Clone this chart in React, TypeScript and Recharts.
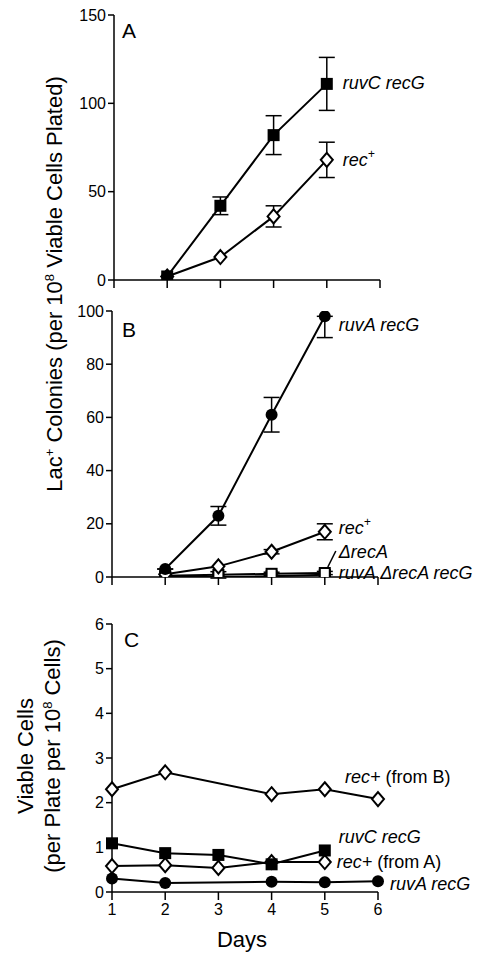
import { LineChart, Line, XAxis, YAxis, ErrorBar, LabelList } from 'recharts';

const FONT = '"Liberation Sans", Arial, Helvetica, sans-serif';

const dayTicks = [1, 2, 3, 4, 5, 6];

// Panel A
const aDays = [2, 3, 4, 5];
const aRuvCRecG = [2, 42, 82, 111];
const aRuvCRecGErr = [0, 5, 11, 15];
const aRecPlus = [2, 13, 36, 68];
const aRecPlusErr = [0, 0, 6, 10];
const aTicks = [0, 50, 100, 150];

// Panel B
const bDays = [2, 3, 4, 5];
const bRuvARecG = [3, 23, 61, 98];
const bRuvARecGErrLow = [0, 3.5, 6.5, 8];
const bRuvARecGErrHigh = [0, 3.5, 6.5, 0];
const bRecPlus = [1, 4, 9.5, 17];
const bRecPlusErr = [0, 0, 0.8, 3];
const bDeltaRecA = [0.5, 0.8, 1.2, 1.5];
const bDeltaRecAErr = [0, 1.2, 0.6, 0.6];
const bRuvADeltaRecARecG = [0, 0, 0.3, 0.8];
const bTicks = [0, 20, 40, 60, 80, 100];

// Panel C
const cRecPlusBDays = [1, 2, 4, 5, 6];
const cRecPlusB = [2.3, 2.68, 2.19, 2.3, 2.08];
const cRuvCDays = [1, 2, 3, 4, 5];
const cRuvCRecG = [1.09, 0.87, 0.83, 0.62, 0.93];
const cRecPlusADays = [1, 2, 3, 4, 5];
const cRecPlusA = [0.58, 0.6, 0.54, 0.67, 0.67];
const cRuvADays = [1, 2, 4, 5, 6];
const cRuvARecG = [0.3, 0.2, 0.23, 0.22, 0.24];
const cTicks = [0, 1, 2, 3, 4, 5, 6];

const rows = (days: number[], vals: number[], errs?: number[], errsHigh?: number[]) =>
  days.map((d, i) => ({
    day: d,
    y: vals[i],
    err: errs ? (errsHigh ? [errs[i], errsHigh[i]] : errs[i]) : 0,
  }));

type Shape = 'square' | 'openSquare' | 'diamond' | 'circle';

const makeDot = (shape: Shape) => (p: any) => {
  const { cx, cy, index } = p;
  const k = `${shape}-${index}`;
  if (cx == null || cy == null) return <g key={k} />;
  if (shape === 'square')
    return <rect key={k} x={cx - 6} y={cy - 6} width={12} height={12} fill="#000" />;
  if (shape === 'openSquare')
    return <rect key={k} x={cx - 5} y={cy - 5} width={10} height={10} fill="#fff" stroke="#000" strokeWidth={2} />;
  if (shape === 'circle') return <circle key={k} cx={cx} cy={cy} r={6} fill="#000" />;
  return (
    <polygon
      key={k}
      points={`${cx},${cy - 7} ${cx + 6},${cy} ${cx},${cy + 7} ${cx - 6},${cy}`}
      fill="#fff"
      stroke="#000"
      strokeWidth={2}
    />
  );
};

type Part = { t: string; i?: boolean; sup?: boolean };

const endLabel =
  (last: number, dx: number, dy: number, parts: Part[], leader?: boolean) => (props: any) => {
    if (props.index !== last) return null;
    const px = Number(props.viewBox?.x ?? props.x);
    const py = Number(props.viewBox?.y ?? props.y);
    const x = px + dx;
    const y = py + dy;
    return (
      <g key={`lab-${last}-${dx}-${dy}`}>
        {leader && <line x1={px + 3} y1={py - 6} x2={px + 11} y2={py - 22} stroke="#000" strokeWidth={1.5} />}
        <text x={x} y={y} dominantBaseline="central" fontSize={18} fill="#000" fontFamily={FONT}>
          {parts.map((p, j) =>
            p.sup ? (
              <tspan key={j} dy={-6} fontSize={12} fontStyle={p.i ? 'italic' : 'normal'}>
                {p.t}
              </tspan>
            ) : (
              <tspan key={j} dy={j > 0 && parts[j - 1].sup ? 6 : 0} fontStyle={p.i ? 'italic' : 'normal'}>
                {p.t}
              </tspan>
            )
          )}
        </text>
      </g>
    );
  };

const axisProps = {
  stroke: '#000',
  strokeWidth: 1.5,
  tick: { fill: '#000', fontSize: 16, fontFamily: FONT },
  tickLine: { stroke: '#000', strokeWidth: 1.5 },
};

const lineProps = {
  type: 'linear' as const,
  dataKey: 'y',
  stroke: '#000',
  strokeWidth: 2,
  activeDot: false,
  isAnimationActive: false,
};

const errProps = { dataKey: 'err', width: 8, stroke: '#000', strokeWidth: 1.5, direction: 'y' as const, isAnimationActive: false };

export default function App() {
  return (
    <div style={{ position: 'absolute', left: 0, top: 0, width: 480, height: 953, background: '#fff', fontFamily: FONT }}>
      {/* Panel A */}
      <div style={{ position: 'absolute', left: 0, top: 0 }}>
        <LineChart width={480} height={300} margin={{ top: 15, right: 100, left: 0, bottom: 0 }}>
          <XAxis dataKey="day" type="number" domain={[1, 6]} ticks={dayTicks} height={20} tickSize={8} tickFormatter={() => ''} {...axisProps} />
          <YAxis type="number" domain={[0, 150]} allowDataOverflow ticks={aTicks} width={114} tickSize={6} tickMargin={2} {...axisProps} />
          <Line {...lineProps} data={rows(aDays, aRecPlus, aRecPlusErr)} dot={makeDot('diamond')}>
            <ErrorBar {...errProps} />
            <LabelList dataKey="y" content={endLabel(3, 16, 0, [{ t: 'rec', i: true }, { t: '+', i: true, sup: true }])} />
          </Line>
          <Line {...lineProps} data={rows(aDays, aRuvCRecG, aRuvCRecGErr)} dot={makeDot('square')}>
            <ErrorBar {...errProps} />
            <LabelList dataKey="y" content={endLabel(3, 16, -1, [{ t: 'ruvC recG', i: true }])} />
          </Line>
        </LineChart>
      </div>

      {/* Panel B */}
      <div style={{ position: 'absolute', left: 0, top: 290 }}>
        <LineChart width={480} height={307} margin={{ top: 21, right: 102, left: 0, bottom: 0 }}>
          <XAxis dataKey="day" type="number" domain={[1, 6]} ticks={dayTicks} height={20} tickSize={8} tickFormatter={() => ''} {...axisProps} />
          <YAxis type="number" domain={[0, 100]} allowDataOverflow ticks={bTicks} width={112} tickSize={6} tickMargin={2} {...axisProps} />
          <Line {...lineProps} data={rows(bDays, bRuvADeltaRecARecG)} dot={makeDot('square')}>
            <LabelList dataKey="y" content={endLabel(3, 14, -2, [{ t: 'ruvA \u0394recA recG', i: true }])} />
          </Line>
          <Line {...lineProps} data={rows(bDays, bDeltaRecA, bDeltaRecAErr)} dot={makeDot('openSquare')}>
            <ErrorBar {...errProps} />
            <LabelList dataKey="y" content={endLabel(3, 14, -21, [{ t: '\u0394recA', i: true }], true)} />
          </Line>
          <Line {...lineProps} data={rows(bDays, bRecPlus, bRecPlusErr)} dot={makeDot('diamond')}>
            <ErrorBar {...errProps} />
            <LabelList dataKey="y" content={endLabel(3, 14, -4, [{ t: 'rec', i: true }, { t: '+', i: true, sup: true }])} />
          </Line>
          <Line {...lineProps} data={rows(bDays, bRuvARecG, bRuvARecGErrLow, bRuvARecGErrHigh)} dot={makeDot('circle')}>
            <ErrorBar {...errProps} />
            <LabelList dataKey="y" content={endLabel(3, 14, 9, [{ t: 'ruvA recG', i: true }])} />
          </Line>
        </LineChart>
      </div>

      {/* Panel C */}
      <div style={{ position: 'absolute', left: 0, top: 600 }}>
        <LineChart width={480} height={353} margin={{ top: 24, right: 102, left: 0, bottom: 0 }}>
          <XAxis dataKey="day" type="number" domain={[1, 6]} ticks={dayTicks} height={61} tickSize={8} tickMargin={4} {...axisProps} />
          <YAxis type="number" domain={[0, 6]} allowDataOverflow ticks={cTicks} width={112} tickSize={6} tickMargin={2} {...axisProps} />
          <Line {...lineProps} data={rows(cRuvADays, cRuvARecG)} dot={makeDot('circle')}>
            <LabelList dataKey="y" content={endLabel(4, 12, 3, [{ t: 'ruvA recG', i: true }])} />
          </Line>
          <Line {...lineProps} data={rows(cRecPlusADays, cRecPlusA)} dot={makeDot('diamond')}>
            <LabelList dataKey="y" content={endLabel(4, 12, 0, [{ t: 'rec+', i: true }, { t: ' (from A)' }])} />
          </Line>
          <Line {...lineProps} data={rows(cRuvCDays, cRuvCRecG)} dot={makeDot('square')}>
            <LabelList dataKey="y" content={endLabel(4, 14, -13, [{ t: 'ruvC recG', i: true }])} />
          </Line>
          <Line {...lineProps} data={rows(cRecPlusBDays, cRecPlusB)} dot={makeDot('diamond')}>
            <LabelList dataKey="y" content={endLabel(4, -33, -22, [{ t: 'rec+', i: true }, { t: ' (from B)' }])} />
          </Line>
        </LineChart>
      </div>

      {/* Axis titles and panel letters */}
      <svg width={480} height={953} style={{ position: 'absolute', left: 0, top: 0, pointerEvents: 'none' }}>
        <g fontFamily={FONT} fill="#000">
          <text x={122} y={38} fontSize={21}>A</text>
          <text x={122} y={337} fontSize={21}>B</text>
          <text x={124} y={647} fontSize={21}>C</text>
          <text transform="translate(62,284) rotate(-90)" textAnchor="middle" fontSize={22}>
            Lac<tspan dy={-8} fontSize={13}>+</tspan>
            <tspan dy={8}> Colonies (per 10</tspan>
            <tspan dy={-8} fontSize={13}>8</tspan>
            <tspan dy={8}> Viable Cells Plated)</tspan>
          </text>
          <text transform="translate(33,756) rotate(-90)" textAnchor="middle" fontSize={22}>
            Viable Cells
          </text>
          <text transform="translate(60,756) rotate(-90)" textAnchor="middle" fontSize={22}>
            (per Plate per 10<tspan dy={-8} fontSize={13}>8</tspan>
            <tspan dy={8}> Cells)</tspan>
          </text>
          <text x={242} y={947} textAnchor="middle" fontSize={22}>Days</text>
        </g>
      </svg>
    </div>
  );
}
